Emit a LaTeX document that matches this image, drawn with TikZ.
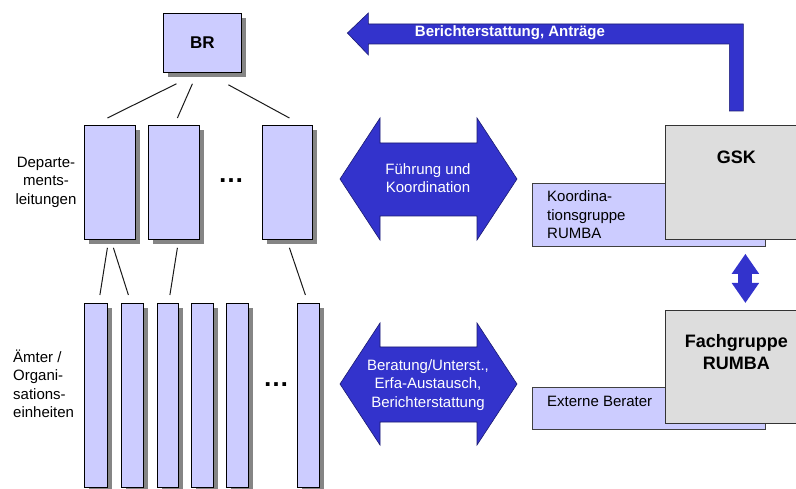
\documentclass[tikz,border=0pt]{standalone}
\usepackage{fontspec}
\setmainfont{Liberation Sans}
\usetikzlibrary{shadows,arrows.meta}
\definecolor{lav}{HTML}{CCCCFF}
\definecolor{hellgrau}{HTML}{DDDDDD}
\definecolor{pfeilblau}{HTML}{3333CC}
\definecolor{pfeilrand}{HTML}{1A1A70}
\definecolor{schatten}{HTML}{858585}

\begin{document}
\begin{tikzpicture}[x=1pt,y=-1pt,
org/.style ={rectangle, draw=black, line width=0.8pt, fill=lav, anchor=north west, inner sep=0pt, drop shadow={shadow xshift=5pt,shadow yshift=-5pt,fill=schatten,opacity=1}},
grp/.style ={rectangle, draw=black!75, line width=0.8pt, fill=lav, anchor=north west, inner sep=0pt, minimum width=233pt},
gre/.style ={rectangle, draw=black!80, line width=0.8pt, fill=hellgrau, anchor=north west, inner sep=0pt, minimum width=142pt},
txt/.style ={inner sep=0pt, font=\fontsize{15}{18.5}\selectfont},
btxt/.style ={inner sep=0pt, font=\fontsize{18}{22}\selectfont\bfseries},
pfeil/.style ={fill=pfeilblau, draw=pfeilrand, line width=0.6pt},
ptxt/.style ={txt, text=white, align=center},
linie/.style ={draw=black!90, line width=1pt},
vpfeil/.style ={draw=pfeilblau, line width=14pt, {Triangle[length=20pt,width=26pt]}-{Triangle[length=20pt,width=26pt]}}]

\useasboundingbox (0,0) rectangle (796,489);
\clip (0,0) rectangle (796,489);

% linke Seite: Organisation
\draw (163,13) node[org, minimum width=78, minimum height=59, font=\fontsize{17}{20}\selectfont\bfseries] (BR) {BR};

\draw (84,125) node[org, minimum width=51, minimum height=114] (Dep1) {};
\draw (148,125) node[org, minimum width=51, minimum height=114] (Dep2) {};
\draw (262,125) node[org, minimum width=50, minimum height=114] (Dep3) {};
\draw (231,183) node[anchor=base, font=\fontsize{26}{26}\selectfont\bfseries] (Pkt1) {…};

\draw (84,303) node[org, minimum width=23, minimum height=184] (Amt1) {};
\draw (121,303) node[org, minimum width=22, minimum height=184] (Amt2) {};
\draw (157,303) node[org, minimum width=21, minimum height=184] (Amt3) {};
\draw (191,303) node[org, minimum width=22, minimum height=184] (Amt4) {};
\draw (226,303) node[org, minimum width=22, minimum height=184] (Amt5) {};
\draw (297,303) node[org, minimum width=22, minimum height=184] (Amt6) {};
\draw (276,387) node[anchor=base, font=\fontsize{26}{26}\selectfont\bfseries] (Pkt2) {…};

\draw (46,182) node[txt, align=center] (DepT) {Departe-\\ments-\\leitungen};
\draw (13,384) node[txt, align=left, anchor=west] (AmtT) {Ämter /\\Organi-\\sations-\\einheiten};

\draw[linie] ([shift={(-26,11)}]BR.south)--([shift={(-2.5,-7)}]Dep1.north);
\draw[linie] ([shift={(-10,11)}]BR.south)--([shift={(3.5,-7)}]Dep2.north);
\draw[linie] ([shift={(26,12)}]BR.south)--([shift={(2,-7)}]Dep3.north);
\draw[linie] ([shift={(-2.5,8)}]Dep1.south)--([shift={(4,-8)}]Amt1.north);
\draw[linie] ([shift={(3.5,8)}]Dep1.south)--([shift={(-4,-8)}]Amt2.north);
\draw[linie] ([shift={(3.5,8)}]Dep2.south)--([shift={(2,-8)}]Amt3.north);
\draw[linie] ([shift={(2,8)}]Dep3.south)--([shift={(-3,-8)}]Amt6.north);

% rechte Seite: Gremien
\draw (532,183) node[grp, minimum height=63,
  label={[txt, align=left, anchor=north west, shift={(15,7.5)}]north west:Koordina-\\tionsgruppe\\RUMBA}] (Koord) {};
\draw (665,125) node[gre, minimum height=114,
  label={[btxt, anchor=north, shift={(0,25.5)}]north:GSK}] (GSK) {};
\draw (532,387) node[grp, minimum height=42,
  label={[txt, align=left, anchor=north west, shift={(15,9)}]north west:Externe Berater}] (Ext) {};
\draw (665,310) node[gre, minimum height=113,
  label={[btxt, align=center, anchor=north, shift={(0,24)}]north:Fachgruppe\\RUMBA}] (Fach) {};

\draw[vpfeil] ([shift={(9,14)}]GSK.south)--([shift={(9,-7)}]Fach.north);

% Pfeile
\draw[pfeil] ([shift={(-7,-14)}]GSK.north) -- ++(0,-67) -- ++(-361,0) -- ++(0,11) -- ++(-21,-22)
  -- ++(21,-20) -- ++(0,11) -- ++(375,0) -- ++(0,87) -- cycle;
\draw (510,33) node[ptxt, font=\fontsize{15}{18.5}\selectfont\bfseries] (Rep) {Berichterstattung, Anträge};

\draw[pfeil] (340,179) -- ++(40,-61) -- ++(0,25) -- ++(97,0) -- ++(0,-25) -- ++(40,61)
  -- ++(-40,61) -- ++(0,-24) -- ++(-97,0) -- ++(0,24) -- cycle;
\draw (428,178) node[ptxt] (Fuehr) {Führung und\\Koordination};

\draw[pfeil] (340,384) -- ++(40,-61) -- ++(0,24) -- ++(97,0) -- ++(0,-24) -- ++(40,61)
  -- ++(-40,61) -- ++(0,-23) -- ++(-97,0) -- ++(0,23) -- cycle;
\draw (428,385) node[ptxt] (Ber) {Beratung/Unterst.,\\Erfa-Austausch,\\Berichterstattung};

\end{tikzpicture}
\end{document}
